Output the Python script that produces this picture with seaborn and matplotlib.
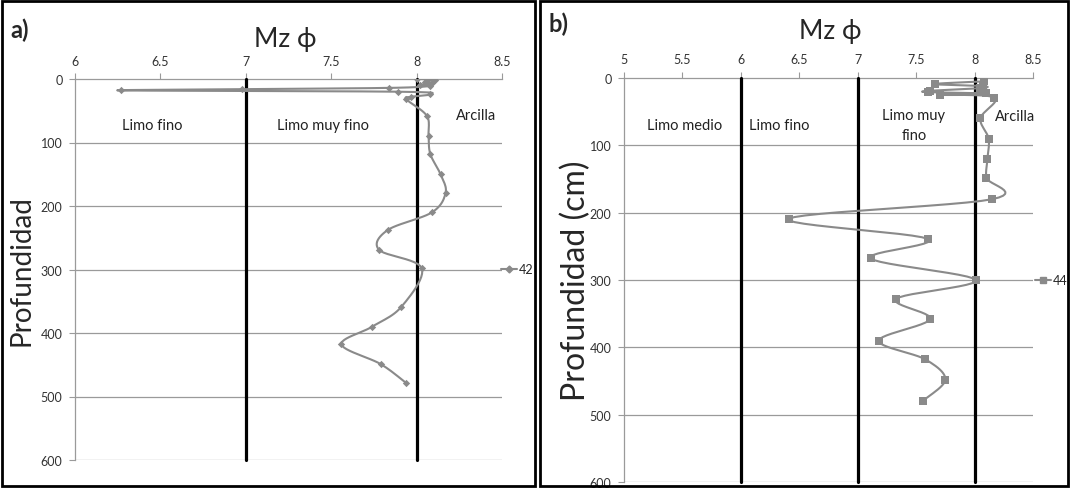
import numpy as np
import pandas as pd
import matplotlib
matplotlib.use("Agg")
import matplotlib.pyplot as plt
import seaborn as sns
from matplotlib.lines import Line2D
from matplotlib.patches import Rectangle

# ---------------- data ----------------
# Panel a) core 42 : Mz (phi) vs depth (cm)
a_mz = [8.00, 8.11, 8.05, 8.09, 8.02, 8.08, 7.84, 6.98, 6.27, 7.89, 8.08, 7.97,
        7.94, 8.06, 8.07, 8.08, 8.14, 8.17, 8.09, 7.83, 7.78, 8.03, 7.91, 7.74,
        7.56, 7.79, 7.94]
a_depth = [0, 1, 4, 7, 9, 11, 14, 16, 18, 20, 24, 28,
           32, 58, 89, 118, 150, 179, 210, 238, 269, 298, 359, 390,
           418, 449, 479]
a_series = "42"

# Panel b) core 44
b_mz = [8.08, 7.66, 8.07, 8.05, 7.62, 7.60, 8.10, 7.70, 8.17, 8.05, 8.12, 8.11,
        8.10, 8.15, 6.41, 7.60, 7.11, 8.01, 7.33, 7.62, 7.18, 7.58, 7.75, 7.56]
b_depth = [5, 9, 12, 15, 19, 21, 23, 25, 29, 60, 90, 120,
           148, 180, 209, 239, 268, 300, 328, 358, 390, 418, 448, 479]
b_series = "44"

a_xticks = [6, 6.5, 7, 7.5, 8, 8.5]
b_xticks = [5, 5.5, 6, 6.5, 7, 7.5, 8, 8.5]
yticks = [0, 100, 200, 300, 400, 500, 600]
a_bounds = [7, 8]
b_bounds = [6, 7, 8]
a_classes = [("Limo fino", 6.45, 73), ("Limo muy fino", 7.45, 73), ("Arcilla", 8.35, 56)]
b_classes = [("Limo medio", 5.52, 70), ("Limo fino", 6.33, 70), ("Limo muy\nfino", 7.48, 70), ("Arcilla", 8.35, 56)]

# ---------------- style ----------------
sns.set_theme(style="white")
plt.rcParams["font.family"] = ["Lato", "DejaVu Sans"]

GRAY = "#8a8a8a"
GRID = "#9a9a9a"

fig = plt.figure(figsize=(10.70, 4.89), dpi=100)
W, H = 1070, 489


def ax_rect(x0, x1, y0, y1):
    return [x0 / W, 1 - y1 / H, (x1 - x0) / W, (y1 - y0) / H]


def smooth(x, y, n=12):
    # Catmull-Rom curve through the measured points (drawing style only)
    x = np.asarray(x, float)
    y = np.asarray(y, float)
    px = np.concatenate([[x[0]], x, [x[-1]]])
    py = np.concatenate([[y[0]], y, [y[-1]]])
    xs, ys = [], []
    t = np.linspace(0, 1, n, endpoint=False)
    for i in range(1, len(px) - 2):
        for arr, out in ((px, xs), (py, ys)):
            p0, p1, p2, p3 = arr[i - 1], arr[i], arr[i + 1], arr[i + 2]
            out.extend(0.5 * ((2 * p1) + (-p0 + p2) * t +
                              (2 * p0 - 5 * p1 + 4 * p2 - p3) * t ** 2 +
                              (-p0 + 3 * p1 - 3 * p2 + p3) * t ** 3))
    xs.append(x[-1])
    ys.append(y[-1])
    return np.array(xs), np.array(ys)


def panel(rect, mz, depth, xticks, bounds, classes, ylabel, ylab_size, marker, ms,
          legend_ms, series, leg_x, ylab_x, letter, letter_xy, title_xy):
    ax = fig.add_axes(rect)
    xmin, xmax = xticks[0], xticks[-1]
    ax.set_xlim(xmin, xmax)
    ax.set_ylim(600, 0)
    ax.xaxis.tick_top()
    ax.set_xticks(xticks)
    ax.set_xticklabels([f"{t:g}" for t in xticks], fontsize=9, color="#333333")
    ax.set_yticks(yticks)
    ax.set_yticklabels([str(t) for t in yticks], fontsize=9, color="#333333")
    ax.tick_params(axis="x", direction="out", length=4, width=0.8, color=GRID, pad=5, top=True, bottom=False)
    ax.tick_params(axis="y", direction="out", length=4, width=0.8, color=GRID, pad=5, left=True)
    for s in ["right", "bottom"]:
        ax.spines[s].set_visible(False)
    for s in ["left", "top"]:
        ax.spines[s].set_color(GRID)
        ax.spines[s].set_linewidth(0.9)
    for yv in yticks[1:]:
        ax.axhline(yv, color=GRID, lw=0.9, zorder=1)
    for b in bounds:
        ax.plot([b, b], [0, 600], color="black", lw=2.3, zorder=3, clip_on=False)
    sx, sy = smooth(mz, depth)
    df_line = pd.DataFrame({"mz": sx, "depth": sy})
    sns.lineplot(data=df_line, x="mz", y="depth", sort=False, estimator=None,
                 color=GRAY, lw=1.5, ax=ax, zorder=4)
    df = pd.DataFrame({"mz": mz, "depth": depth})
    sns.scatterplot(data=df, x="mz", y="depth", marker=marker, s=ms, color=GRAY,
                    edgecolor=GRAY, linewidth=0, ax=ax, zorder=5)
    ax.set_xlabel("")
    ax.set_ylabel("")
    ax.set_ylim(600, 0)
    for txt, xv, yv in classes:
        ax.text(xv, yv, txt, fontsize=10.5, ha="center", va="center", color="#222222",
                linespacing=1.5, zorder=6)
    handle = Line2D([0], [0], color=GRAY, lw=1.5, marker=marker, ms=legend_ms,
                    markerfacecolor=GRAY, markeredgecolor=GRAY)
    fig.legend([handle], [series], loc="center left",
               bbox_to_anchor=(leg_x / W, rect[1] + rect[3] * 0.5),
               frameon=False, fontsize=9, handlelength=1.3, handletextpad=0.1,
               borderaxespad=0.0, borderpad=0.0)
    fig.text(title_xy[0] / W, 1 - title_xy[1] / H, "Mz \u03d5", fontsize=19, ha="center", va="center")
    fig.text(ylab_x / W, rect[1] + rect[3] * 0.5,
             ylabel, fontsize=ylab_size, rotation=90, ha="center", va="center")
    fig.text(letter_xy[0] / W, 1 - letter_xy[1] / H, letter, fontsize=17,
             fontweight="bold", ha="left", va="center")
    return ax


panel(ax_rect(75, 502, 80, 461), a_mz, a_depth, a_xticks, a_bounds, a_classes,
      "Profundidad", 20, "D", 14, 3.5, a_series, 501, 22, "a)", (10, 30), (285, 40))
panel(ax_rect(624, 1033, 79, 483), b_mz, b_depth, b_xticks, b_bounds, b_classes,
      "Profundidad (cm)", 23, "s", 30, 5, b_series, 1035, 576, "b)", (548, 24), (830, 32))

# panel frames
fig.add_artist(Rectangle((2 / W, 2 / H), 533 / W, 485 / H, transform=fig.transFigure,
                         fill=False, lw=2, edgecolor="black"))
fig.add_artist(Rectangle((540 / W, 2 / H), 528 / W, 485 / H, transform=fig.transFigure,
                         fill=False, lw=2, edgecolor="black"))

fig.savefig("out.png", dpi=100)
